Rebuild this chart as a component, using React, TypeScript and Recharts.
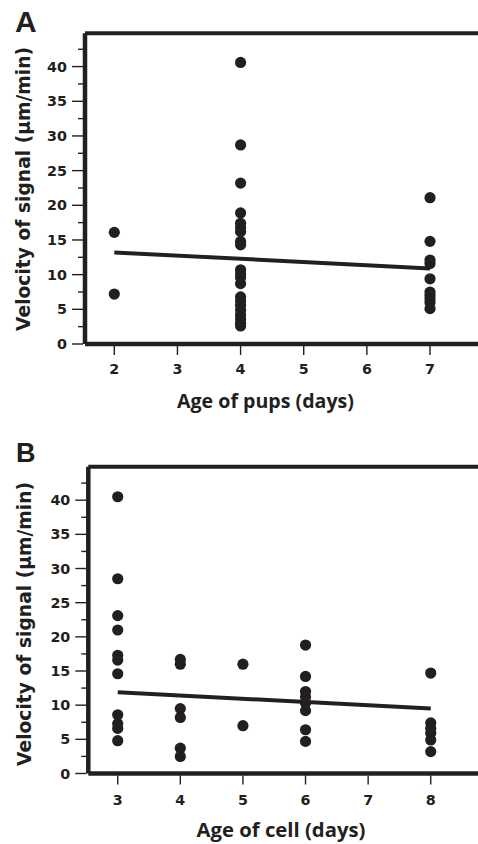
import React from 'react';
import { ScatterChart, Scatter, XAxis, YAxis, ReferenceLine } from 'recharts';

const INK = '#231f20';

// Panel A: age of pups (days) vs velocity of signal
const pupAges = [2, 4, 7];
const pupVelocities = [
  [16.1, 7.2],
  [40.6, 28.7, 23.2, 18.9, 17.4, 16.8, 16.2, 14.8, 14.3, 10.7, 10.1, 9.6, 8.7, 6.8, 6.2, 5.6, 4.9, 4.2, 3.6, 3.0, 2.6],
  [21.1, 14.8, 12.1, 11.6, 9.4, 7.5, 7.0, 6.5, 6.0, 5.1],
];
const pupFit = [
  { x: 2, y: 13.2 },
  { x: 7, y: 10.9 },
];
const pupTicks = [2, 3, 4, 5, 6, 7];

// Panel B: age of cell (days) vs velocity of signal
const cellAges = [3, 4, 5, 6, 8];
const cellVelocities = [
  [40.5, 28.5, 23.1, 21.0, 17.3, 16.6, 14.6, 8.6, 7.3, 6.6, 4.8],
  [16.7, 16.0, 9.5, 8.2, 3.7, 2.5],
  [16.0, 7.0],
  [18.8, 14.2, 12.0, 11.2, 10.3, 9.2, 6.4, 4.7],
  [14.7, 7.4, 6.6, 5.9, 4.9, 3.2],
];
const cellFit = [
  { x: 3, y: 11.9 },
  { x: 8, y: 9.5 },
];
const cellTicks = [3, 4, 5, 6, 7, 8];

const yTicks = [0, 2.5, 5, 7.5, 10, 12.5, 15, 17.5, 20, 22.5, 25, 27.5, 30, 32.5, 35, 37.5, 40, 42.5];

const buildPoints = (ages: number[], vals: number[][]) =>
  ages.flatMap((a, i) => vals[i].map((v) => ({ x: a, y: v })));

const pupData = buildPoints(pupAges, pupVelocities);
const cellData = buildPoints(cellAges, cellVelocities);

const TICK_FONT = "'DejaVu Sans', Verdana, sans-serif";

const YTick = (props: any) => {
  const { x, y, payload } = props;
  const v = payload.value;
  const major = v % 5 === 0;
  return (
    <g>
      <line x1={x - (major ? 13 : 7)} x2={x - 2} y1={y} y2={y} stroke={INK} strokeWidth={1.4} />
      {major && (
        <text x={x - 18} y={y + 5} textAnchor="end" fontFamily={TICK_FONT} fontWeight="bold" fontSize={14.3} fill={INK}>
          {v}
        </text>
      )}
    </g>
  );
};

const makeXTick = (labelOffset: number) => (props: any) => {
  const { x, y, payload } = props;
  return (
    <g>
      <line x1={x} x2={x} y1={y + 2} y2={y + 11} stroke={INK} strokeWidth={1.4} />
      <text x={x} y={y + labelOffset} textAnchor="middle" fontFamily={TICK_FONT} fontWeight="bold" fontSize={14.3} fill={INK}>
        {payload.value}
      </text>
    </g>
  );
};

const Dot = (props: any) => <circle cx={props.cx} cy={props.cy} r={5.6} fill={INK} />;

type PanelProps = {
  data: { x: number; y: number }[];
  fit: { x: number; y: number }[];
  xTicks: number[];
  xDomain: [number, number];
  yMax: number;
  height: number;
  top: number;
  yAxisWidth: number;
  xAxisHeight: number;
  labelOffset: number;
};

const Panel = ({ data, fit, xTicks, xDomain, yMax, height, top, yAxisWidth, xAxisHeight, labelOffset }: PanelProps) => (
  <ScatterChart width={478} height={height} margin={{ top, right: 0, bottom: 0, left: 0 }}>
    <XAxis
      type="number"
      dataKey="x"
      domain={xDomain}
      allowDataOverflow
      ticks={xTicks}
      interval={0}
      height={xAxisHeight}
      tickSize={0}
      tickMargin={0}
      tickLine={false}
      axisLine={{ stroke: INK, strokeWidth: 4.5 }}
      tick={makeXTick(labelOffset)}
    />
    <YAxis
      type="number"
      dataKey="y"
      domain={[0, yMax]}
      allowDataOverflow
      ticks={yTicks}
      interval={0}
      width={yAxisWidth}
      tickSize={0}
      tickMargin={0}
      tickLine={false}
      axisLine={{ stroke: INK, strokeWidth: 4.5 }}
      tick={<YTick />}
    />
    <ReferenceLine y={yMax} stroke={INK} strokeWidth={4} ifOverflow="visible" />
    <ReferenceLine segment={fit} stroke={INK} strokeWidth={4} />
    <Scatter data={data} shape={<Dot />} isAnimationActive={false} />
  </ScatterChart>
);

const TITLE_FONT = "'Open Sans', 'Noto Sans', sans-serif";
const LETTER_FONT = "'Liberation Sans', Arial, sans-serif";

export default function App() {
  return (
    <div style={{ position: 'absolute', left: 0, top: 0, width: 478, height: 844, background: '#fff', overflow: 'hidden' }}>
      <div style={{ position: 'absolute', left: 0, top: 0 }}>
        <Panel
          data={pupData}
          fit={pupFit}
          xTicks={pupTicks}
          xDomain={[1.536, 7.76]}
          yMax={44.8}
          height={420}
          top={33.3}
          yAxisWidth={85}
          xAxisHeight={76}
          labelOffset={30}
        />
      </div>
      <div style={{ position: 'absolute', left: 0, top: 420 }}>
        <Panel
          data={cellData}
          fit={cellFit}
          xTicks={cellTicks}
          xDomain={[2.53, 8.755]}
          yMax={44.9}
          height={424}
          top={46.7}
          yAxisWidth={88.3}
          xAxisHeight={70.5}
          labelOffset={31.5}
        />
      </div>
      <svg width={478} height={844} style={{ position: 'absolute', left: 0, top: 0, pointerEvents: 'none' }}>
        <text x={15} y={32} fontFamily={LETTER_FONT} fontWeight="bold" fontSize={30} fill={INK}>A</text>
        <text x={16} y={462} fontFamily={LETTER_FONT} fontWeight="bold" fontSize={27} fill={INK}>B</text>
        <text
          x={30}
          y={189}
          transform="rotate(-90 30 189)"
          textAnchor="middle"
          fontFamily={TICK_FONT}
          fontWeight="bold"
          fontSize={18.7}
          fill={INK}
        >
          Velocity of signal (μm/min)
        </text>
        <text
          x={31}
          y={624}
          transform="rotate(-90 31 624)"
          textAnchor="middle"
          fontFamily={TICK_FONT}
          fontWeight="bold"
          fontSize={18.7}
          fill={INK}
        >
          Velocity of signal (μm/min)
        </text>
        <text x={265.5} y={408} textAnchor="middle" fontFamily={TITLE_FONT} fontWeight={700} fontSize={19.6} fill={INK}>
          Age of pups (days)
        </text>
        <text x={281} y={837} textAnchor="middle" fontFamily={TITLE_FONT} fontWeight={700} fontSize={20.3} fill={INK}>
          Age of cell (days)
        </text>
      </svg>
    </div>
  );
}
